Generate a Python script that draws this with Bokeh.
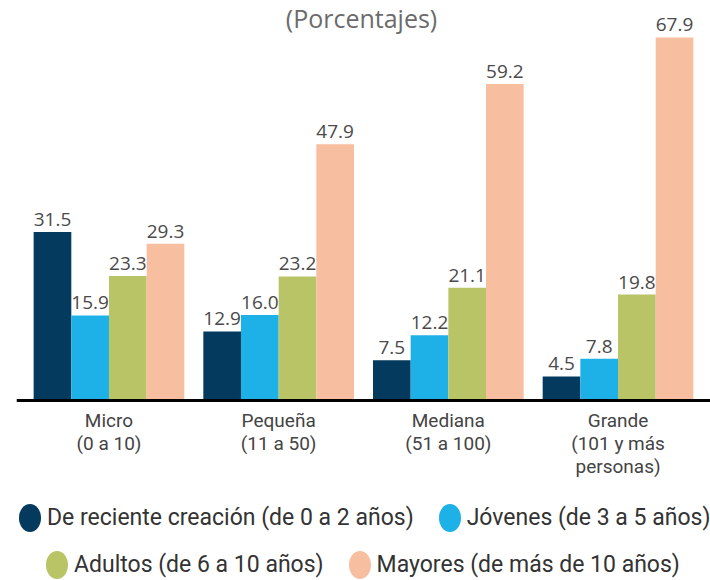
import numpy as np
from bokeh.plotting import figure
from bokeh.models import (ColumnDataSource, FactorRange, Legend, LegendItem, Label, Range1d,
                          Span)
from bokeh.transform import dodge
from bokeh.core.properties import value
from bokeh.embed import file_html
from bokeh.resources import INLINE

# ---- data ----
categories = ["Micro", "Pequeña", "Mediana", "Grande"]
label_line1 = ["Micro", "Pequeña", "Mediana", "Grande"]
label_line2 = ["(0 a 10)", "(11 a 50)", "(51 a 100)", "(101 y más"]
label_line3 = ["", "", "", "personas)"]
series_names = ["De reciente creación (de 0 a 2 años)", "Jóvenes (de 3 a 5 años)",
                "Adultos (de 6 a 10 años)", "Mayores (de más de 10 años)"]
reciente = [31.5, 12.9, 7.5, 4.5]
jovenes = [15.9, 16.0, 12.2, 7.8]
adultos = [23.3, 23.2, 21.1, 19.8]
mayores = [29.3, 47.9, 59.2, 67.9]
title_text = "(Porcentajes)"

series_values = [reciente, jovenes, adultos, mayores]
colors = ["#033a5e", "#1db1e7", "#b9c466", "#f7bea0"]
offsets = [-0.333, -0.111, 0.111, 0.333]

LABEL_FONT = "Roboto"
PAD = 0.045

# the frame covers the whole canvas; the area under the zero line holds labels and legend
p = figure(x_range=FactorRange(*categories, range_padding=PAD, range_padding_units="absolute"),
           y_range=Range1d(-33.67, 74.8),
           width=710, height=580, frame_width=694, frame_height=580,
           output_backend="svg", toolbar_location=None,
           min_border=0, min_border_left=16)

p.outline_line_color = None
p.xgrid.grid_line_color = None
p.ygrid.grid_line_color = None
p.xaxis.visible = False
p.yaxis.visible = False
p.background_fill_color = "white"

# baseline (zero line)
p.add_layout(Span(location=0, dimension="width", line_color="black", line_width=3))

# category labels under the baseline, one line per text glyph
cat_src = ColumnDataSource(dict(x=categories, y=[0] * len(categories),
                                l1=label_line1, l2=label_line2, l3=label_line3))
for col_name, off in (("l1", 20), ("l2", 43), ("l3", 66)):
    p.text(x="x", y="y", text=col_name, source=cat_src, y_offset=off,
           text_align="center", text_baseline="middle",
           text_font=value(LABEL_FONT), text_font_size="19px", text_color="#444444")

legend_renderers = []
for vals, col, off, name in zip(series_values, colors, offsets, series_names):
    src = ColumnDataSource(dict(x=categories, top=vals, label=[f"{v:.1f}" for v in vals]))
    p.vbar(x=dodge("x", off, range=p.x_range), top="top", bottom=0, width=0.222, source=src,
           fill_color=col, line_color=None)
    p.text(x=dodge("x", off, range=p.x_range), y="top", text="label", source=src,
           text_align="center", text_baseline="bottom", y_offset=-6,
           text_font=value("Open Sans"), text_font_size="19px", text_color="#4a4a4a")
    # legend key: ellipse of fixed screen size, not drawn in the plot (NaN position)
    key_src = ColumnDataSource(dict(x=[categories[0]], y=np.array([np.nan])))
    r = p.ellipse(x="x", y="y", width=22, height=28, width_units="screen",
                  height_units="screen", source=key_src, fill_color=col, line_color=None)
    legend_renderers.append(r)

title = Label(x=345, y=71.5, x_units="screen", y_units="data", text=title_text,
              text_align="center", text_baseline="middle", text_font="Open Sans",
              text_font_size="25px", text_color="#6b6b6b")
p.add_layout(title)

def make_legend(idx, location):
    return Legend(items=[LegendItem(label=series_names[i], renderers=[legend_renderers[i]])
                         for i in idx],
                  orientation="horizontal", location=location,
                  glyph_width=35, glyph_height=35, label_standoff=-4, spacing=18,
                  padding=0, margin=0, border_line_color=None,
                  background_fill_alpha=0,
                  label_text_font=LABEL_FONT, label_text_font_size="23px",
                  label_text_color="#333333")

p.add_layout(make_legend([0, 1], (-4, 45)))
p.add_layout(make_legend([2, 3], (23, -2)))

open("out.html", "w").write(file_html(p, INLINE))
